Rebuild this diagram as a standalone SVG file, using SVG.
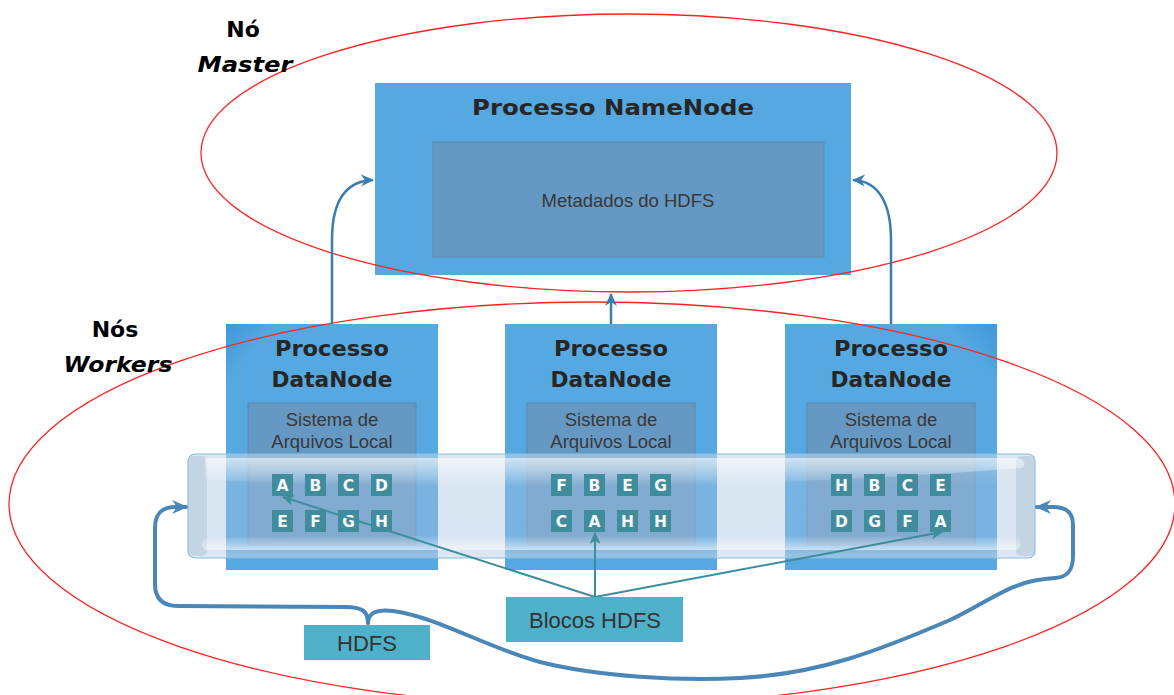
<svg xmlns="http://www.w3.org/2000/svg" width="1174" height="695" viewBox="0 0 1174 695">
<defs>
<style>
.box{fill:#56A8E0}
.inner{fill:#6599C3;stroke:#5C88AE;stroke-width:1}
.title{font-family:"DejaVu Sans",sans-serif;font-weight:bold;font-size:22px;fill:#262626;text-anchor:middle}
.lbl{font-family:"DejaVu Sans",sans-serif;font-weight:bold;font-size:22px;fill:#000;text-anchor:middle}
.reg{font-family:"Liberation Sans",Arial,sans-serif;font-size:18.5px;fill:#383838;text-anchor:middle}
.big{font-family:"Liberation Sans",Arial,sans-serif;font-size:22px;fill:#333;text-anchor:middle}
.blk{fill:#3F8C9C}
.bt{font-family:"DejaVu Sans",sans-serif;font-weight:bold;font-size:15.5px;fill:#F4F8FA;text-anchor:middle}
.ell{fill:none;stroke:#F22;stroke-width:1.3}
.up{fill:none;stroke:#3A7DB1;stroke-width:2.5}
.teal{fill:none;stroke:#3C8E9D;stroke-width:2}
.hdfs{fill:none;stroke:#4A86B6;stroke-width:4;stroke-linecap:round}
.tag{fill:#4FB1C9}
</style>
<marker id="aUp" markerWidth="14" markerHeight="12" refX="12" refY="6" orient="auto" markerUnits="userSpaceOnUse">
<path d="M0,0 L13,6 L0,12 L4,6 z" fill="#3A7DB1"/>
</marker>
<marker id="aTeal" markerWidth="13" markerHeight="11" refX="11" refY="5.5" orient="auto" markerUnits="userSpaceOnUse">
<path d="M0,0 L12,5.5 L0,11 L3.5,5.5 z" fill="#3C8E9D"/>
</marker>
<marker id="aH" markerWidth="16" markerHeight="14" refX="14" refY="7" orient="auto" markerUnits="userSpaceOnUse">
<path d="M0,0 L16,7 L0,14 L5,7 z" fill="#4A86B6"/>
</marker>
<linearGradient id="cylBody" x1="0" y1="0" x2="0" y2="1">
<stop offset="0" stop-color="#C4D6E6" stop-opacity="0.6"/>
<stop offset="0.3" stop-color="#A8C4E2" stop-opacity="0.42"/>
<stop offset="0.85" stop-color="#A6C2E2" stop-opacity="0.42"/>
<stop offset="1" stop-color="#C8D8E8" stop-opacity="0.6"/>
</linearGradient>
<linearGradient id="gloss" x1="0" y1="0" x2="0" y2="1">
<stop offset="0" stop-color="#FFFFFF" stop-opacity="0.55"/>
<stop offset="1" stop-color="#FFFFFF" stop-opacity="0"/>
</linearGradient>
<linearGradient id="glossB" x1="0" y1="0" x2="0" y2="1">
<stop offset="0" stop-color="#FFFFFF" stop-opacity="0"/>
<stop offset="1" stop-color="#FFFFFF" stop-opacity="0.55"/>
</linearGradient>
<linearGradient id="boxG" x1="0" y1="0" x2="1" y2="1">
<stop offset="0" stop-color="#3D98DA"/>
<stop offset="0.12" stop-color="#56A8E0"/>
<stop offset="1" stop-color="#56A8E0"/>
</linearGradient>
<linearGradient id="boxG3" x1="1" y1="0" x2="0" y2="1">
<stop offset="0" stop-color="#3D98DA"/>
<stop offset="0.12" stop-color="#56A8E0"/>
<stop offset="1" stop-color="#56A8E0"/>
</linearGradient>
</defs>

<g id="namenode">
<rect class="box" x="375" y="83" width="476" height="192"/>
<text class="title" x="613" y="115" textLength="282" lengthAdjust="spacingAndGlyphs">Processo NameNode</text>
<rect class="inner" x="433" y="142" width="391" height="115"/>
<text class="reg" x="628" y="207">Metadados do HDFS</text>
</g>

<g id="datanode-1">
<rect x="226" y="324" width="212" height="246" style="fill:url(#boxG)"/>
<text class="title" x="332" y="356" textLength="114" lengthAdjust="spacingAndGlyphs">Processo</text>
<text class="title" x="332" y="387" textLength="121" lengthAdjust="spacingAndGlyphs">DataNode</text>
<rect class="inner" x="248" y="403" width="168" height="142"/>
<text class="reg" x="332" y="426">Sistema de</text>
<text class="reg" x="332" y="448">Arquivos Local</text>
</g>

<g id="datanode-2">
<rect class="box" x="505" y="324" width="212" height="246"/>
<text class="title" x="611" y="356" textLength="114" lengthAdjust="spacingAndGlyphs">Processo</text>
<text class="title" x="611" y="387" textLength="121" lengthAdjust="spacingAndGlyphs">DataNode</text>
<rect class="inner" x="527" y="403" width="168" height="142"/>
<text class="reg" x="611" y="426">Sistema de</text>
<text class="reg" x="611" y="448">Arquivos Local</text>
</g>

<g id="datanode-3">
<rect x="785" y="324" width="212" height="246" style="fill:url(#boxG3)"/>
<text class="title" x="891" y="356" textLength="114" lengthAdjust="spacingAndGlyphs">Processo</text>
<text class="title" x="891" y="387" textLength="121" lengthAdjust="spacingAndGlyphs">DataNode</text>
<rect class="inner" x="807" y="403" width="168" height="142"/>
<text class="reg" x="891" y="426">Sistema de</text>
<text class="reg" x="891" y="448">Arquivos Local</text>
</g>

<g id="hdfs-cylinder">
<rect x="188" y="454" width="847" height="104" rx="7" fill="url(#cylBody)" stroke="#86BCE3" stroke-width="1.2"/>
<rect x="189" y="456" width="18" height="100" rx="5" fill="#B4C8D8" fill-opacity="0.6"/>
<rect x="1016" y="456" width="18" height="100" rx="5" fill="#B4C8D8" fill-opacity="0.6"/>
<path d="M205,458 L1018,458 Q1028,462 1022,468 Q900,478 700,485 Q450,490 205,480 Z" fill="url(#gloss)"/>
<path d="M205,538 Q600,532 1018,538 Q1024,546 1016,550 L205,550 Q198,544 205,538 Z" fill="url(#glossB)"/>
</g>

<g id="blocks-dn1">
<rect class="blk" x="272" y="474" width="21" height="22"/><text class="bt" x="282.5" y="491">A</text>
<rect class="blk" x="305" y="474" width="21" height="22"/><text class="bt" x="315.5" y="491">B</text>
<rect class="blk" x="338" y="474" width="21" height="22"/><text class="bt" x="348.5" y="491">C</text>
<rect class="blk" x="371" y="474" width="21" height="22"/><text class="bt" x="381.5" y="491">D</text>
<rect class="blk" x="272" y="510" width="21" height="22"/><text class="bt" x="282.5" y="527">E</text>
<rect class="blk" x="305" y="510" width="21" height="22"/><text class="bt" x="315.5" y="527">F</text>
<rect class="blk" x="338" y="510" width="21" height="22"/><text class="bt" x="348.5" y="527">G</text>
<rect class="blk" x="371" y="510" width="21" height="22"/><text class="bt" x="381.5" y="527">H</text>
</g>
<g id="blocks-dn2">
<rect class="blk" x="551" y="474" width="21" height="22"/><text class="bt" x="561.5" y="491">F</text>
<rect class="blk" x="584" y="474" width="21" height="22"/><text class="bt" x="594.5" y="491">B</text>
<rect class="blk" x="617" y="474" width="21" height="22"/><text class="bt" x="627.5" y="491">E</text>
<rect class="blk" x="650" y="474" width="21" height="22"/><text class="bt" x="660.5" y="491">G</text>
<rect class="blk" x="551" y="510" width="21" height="22"/><text class="bt" x="561.5" y="527">C</text>
<rect class="blk" x="584" y="510" width="21" height="22"/><text class="bt" x="594.5" y="527">A</text>
<rect class="blk" x="617" y="510" width="21" height="22"/><text class="bt" x="627.5" y="527">H</text>
<rect class="blk" x="650" y="510" width="21" height="22"/><text class="bt" x="660.5" y="527">H</text>
</g>
<g id="blocks-dn3">
<rect class="blk" x="831" y="474" width="21" height="22"/><text class="bt" x="841.5" y="491">H</text>
<rect class="blk" x="864" y="474" width="21" height="22"/><text class="bt" x="874.5" y="491">B</text>
<rect class="blk" x="897" y="474" width="21" height="22"/><text class="bt" x="907.5" y="491">C</text>
<rect class="blk" x="930" y="474" width="21" height="22"/><text class="bt" x="940.5" y="491">E</text>
<rect class="blk" x="831" y="510" width="21" height="22"/><text class="bt" x="841.5" y="527">D</text>
<rect class="blk" x="864" y="510" width="21" height="22"/><text class="bt" x="874.5" y="527">G</text>
<rect class="blk" x="897" y="510" width="21" height="22"/><text class="bt" x="907.5" y="527">F</text>
<rect class="blk" x="930" y="510" width="21" height="22"/><text class="bt" x="940.5" y="527">A</text>
</g>

<g id="groups">
<ellipse class="ell" cx="629" cy="153" rx="428" ry="139"/>
<ellipse class="ell" cx="592" cy="504" rx="583" ry="202"/>
</g>

<g id="connectors">
<path class="up" d="M332,324 L332,240 C332,204 344,181 373,180" marker-end="url(#aUp)"/>
<path class="up" d="M891,324 L891,240 C891,204 879,181 853,180" marker-end="url(#aUp)"/>
<path class="up" d="M611,324 L611,294" marker-end="url(#aUp)"/>
<path class="teal" d="M595,597 L283,497" marker-end="url(#aTeal)"/>
<path class="teal" d="M595,597 L595,533" marker-end="url(#aTeal)"/>
<path class="teal" d="M595,597 L942,532" marker-end="url(#aTeal)"/>
<path class="hdfs" d="M368,623 C368,611 362,607 345,607 L178,606 C162,606 155,598 155,584 L155,528 C155,513 162,507 176,507 L186,507" marker-end="url(#aH)"/>
<path class="hdfs" d="M368,623 C368,612 378,609 393,611 C440,618 480,645 540,662 C600,677 680,681 740,678 C820,674 880,650 950,620 C985,604 1010,582 1045,579 L1055,578 C1068,577 1073,570 1073,556 L1073,525 C1073,512 1066,507 1053,507 L1037,507" marker-end="url(#aH)"/>
</g>

<g id="hdfs-label">
<rect class="tag" x="304" y="625" width="126" height="35"/>
<text class="big" x="367" y="651">HDFS</text>
</g>
<g id="blocos-label">
<rect class="tag" x="506" y="597" width="177" height="45"/>
<text class="big" x="595" y="628">Blocos HDFS</text>
</g>

<g id="labels">
<text class="lbl" x="243" y="37">Nó</text>
<text class="lbl" x="245" y="72" font-style="italic" textLength="95" lengthAdjust="spacingAndGlyphs">Master</text>
<text class="lbl" x="115" y="337">Nós</text>
<text class="lbl" x="118" y="372" font-style="italic" textLength="109" lengthAdjust="spacingAndGlyphs">Workers</text>
</g>
</svg>
